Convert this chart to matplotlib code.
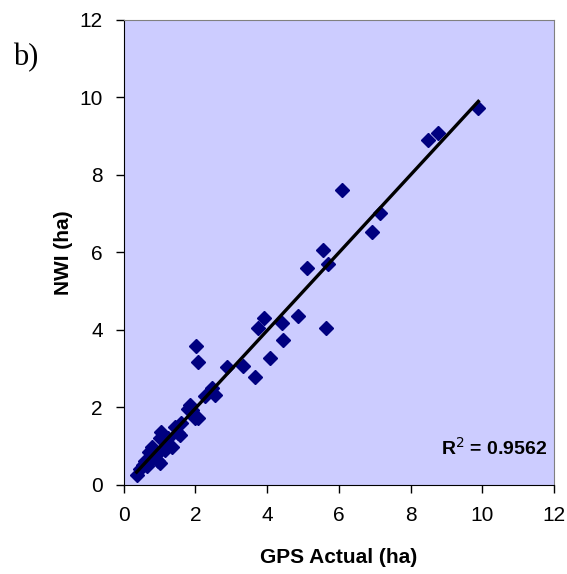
import numpy as np
import matplotlib
matplotlib.use("Agg")
import matplotlib.pyplot as plt

gps_actual = [0.36, 0.45, 0.55, 0.60, 0.65, 0.73, 0.70, 0.78, 0.85, 0.97,
              0.97, 1.01, 1.01, 1.05, 1.15, 1.24, 1.34, 1.43, 1.52, 1.57,
              1.60, 1.78, 1.85, 1.90, 2.00, 2.08, 2.02, 2.06, 2.27, 2.45,
              2.55, 2.87, 3.34, 3.67, 3.75, 3.92, 4.08, 4.41, 4.43, 4.85,
              5.63, 5.12, 5.57, 5.69, 6.08, 6.92, 7.15, 8.48, 8.76, 9.89]
nwi = [0.25, 0.40, 0.50, 0.60, 0.48, 0.62, 0.85, 0.98, 0.75, 0.60,
       0.82, 0.55, 1.20, 1.35, 0.90, 1.20, 0.98, 1.50, 1.33, 1.28,
       1.58, 1.95, 2.05, 1.93, 1.72, 1.72, 3.59, 3.16, 2.30, 2.49,
       2.32, 3.03, 3.07, 2.79, 4.04, 4.30, 3.26, 4.17, 3.74, 4.35,
       4.04, 5.59, 6.06, 5.70, 7.61, 6.52, 7.02, 8.90, 9.07, 9.72]
r2_label = "R$^2$ = 0.9562"
x_ticks = [0, 2, 4, 6, 8, 10, 12]
y_ticks = [0, 2, 4, 6, 8, 10, 12]

plt.rcParams['font.family'] = ['Liberation Sans', 'DejaVu Sans']

fig = plt.figure(figsize=(5.67, 5.74), dpi=100)
ax = fig.add_axes([0.2182, 0.1556, 0.977 - 0.2182, 0.9652 - 0.1556])
ax.set_facecolor('#CCCCFF')

x = np.array(gps_actual)
y = np.array(nwi)
ax.plot(x, y, linestyle='none', marker='D', markersize=7.5,
        color='#000080', markeredgecolor='#000080', zorder=3)

slope, intercept = np.polyfit(x, y, 1)
xl = np.array([x.min(), x.max()])
ax.plot(xl, slope * xl + intercept, color='black', linewidth=2.4, zorder=4)

ax.set_xlim(0, 12)
ax.set_ylim(0, 12)
ax.set_xticks(x_ticks)
ax.set_yticks(y_ticks)
ax.tick_params(direction='out', length=6, width=1, labelsize=15)
ax.tick_params(axis='x', pad=9)
ax.tick_params(axis='y', pad=9)
for side in ['top', 'right']:
    ax.spines[side].set_color('#808080')
for side in ['left', 'bottom']:
    ax.spines[side].set_color('black')

ax.set_xlabel('GPS Actual (ha)', fontsize=15, fontweight='bold', labelpad=17)
ax.set_ylabel('NWI (ha)', fontsize=15, fontweight='bold', labelpad=5)

ax.text(0.985, 0.08, r2_label, transform=ax.transAxes, ha='right', va='center',
        fontsize=14, fontweight='bold')

fig.text(13 / 567, 1 - 58 / 574, 'b)', fontsize=22, family='Liberation Serif',
         ha='left', va='center')

fig.savefig('out.png', dpi=100, facecolor='white')
